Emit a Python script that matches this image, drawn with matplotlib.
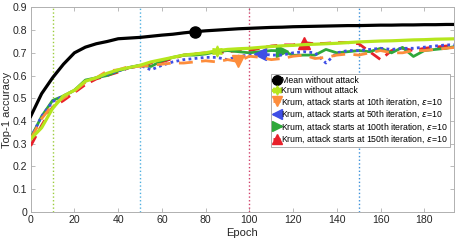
import matplotlib
matplotlib.use('Agg')
import matplotlib.pyplot as plt
import numpy as np

plt.rcParams['font.family'] = ['Liberation Sans', 'DejaVu Sans']

epochs = np.arange(0, 200, 5)

mean_no_attack = [0.42, 0.52, 0.59, 0.65, 0.70, 0.725, 0.74, 0.75, 0.762, 0.765,
                  0.768, 0.773, 0.778, 0.782, 0.788, 0.793, 0.797, 0.80, 0.803, 0.806,
                  0.808, 0.81, 0.812, 0.813, 0.815, 0.816, 0.817, 0.818, 0.819, 0.82,
                  0.82, 0.821, 0.822, 0.822, 0.823, 0.823, 0.824, 0.824, 0.825, 0.825]

krum_no_attack = [0.32, 0.37, 0.455, 0.51, 0.535, 0.575, 0.59, 0.61, 0.625, 0.635,
                  0.645, 0.66, 0.67, 0.68, 0.69, 0.695, 0.70, 0.709, 0.715, 0.718,
                  0.72, 0.724, 0.728, 0.731, 0.733, 0.736, 0.738, 0.74, 0.742, 0.745,
                  0.748, 0.75, 0.752, 0.753, 0.755, 0.757, 0.758, 0.76, 0.761, 0.762]

krum_attack_10 = [0.32, 0.41, 0.47, 0.50, 0.53, 0.57, 0.59, 0.62, 0.625, 0.64,
                  0.64, 0.645, 0.65, 0.655, 0.655, 0.66, 0.665, 0.66, 0.67, 0.662,
                  0.685, 0.68, 0.67, 0.675, 0.685, 0.69, 0.675, 0.68, 0.69, 0.695,
                  0.69, 0.70, 0.71, 0.70, 0.70, 0.71, 0.71, 0.715, 0.72, 0.725]

krum_attack_50 = [0.325, 0.42, 0.485, 0.51, 0.535, 0.575, 0.59, 0.605, 0.62, 0.635,
                  0.645, 0.625, 0.645, 0.66, 0.67, 0.675, 0.68, 0.68, 0.67, 0.685,
                  0.69, 0.696, 0.69, 0.69, 0.70, 0.705, 0.70, 0.655, 0.70, 0.71,
                  0.71, 0.715, 0.72, 0.715, 0.72, 0.72, 0.725, 0.73, 0.735, 0.735]

krum_attack_100 = [0.325, 0.42, 0.49, 0.51, 0.535, 0.58, 0.59, 0.60, 0.62, 0.635,
                   0.645, 0.64, 0.665, 0.68, 0.69, 0.69, 0.695, 0.705, 0.71, 0.705,
                   0.70, 0.705, 0.71, 0.709, 0.689, 0.69, 0.69, 0.715, 0.70, 0.705,
                   0.71, 0.705, 0.72, 0.70, 0.724, 0.684, 0.71, 0.715, 0.72, 0.73]

krum_attack_150 = [0.29, 0.38, 0.46, 0.49, 0.525, 0.56, 0.585, 0.60, 0.615, 0.635,
                   0.64, 0.655, 0.66, 0.675, 0.69, 0.695, 0.70, 0.70, 0.705, 0.71,
                   0.71, 0.72, 0.73, 0.735, 0.735, 0.745, 0.74, 0.742, 0.745, 0.745,
                   0.74, 0.705, 0.67, 0.71, 0.72, 0.71, 0.72, 0.725, 0.73, 0.73]

marker_epochs = [75, 85, 95, 105, 115, 125]
attack_starts = [10, 50, 100, 150]

labels = ['Mean without attack',
          'Krum without attack',
          'Krum, attack starts at 10th iteration, $\\epsilon$=10',
          'Krum, attack starts at 50th iteration, $\\epsilon$=10',
          'Krum, attack starts at 100th iteration, $\\epsilon$=10',
          'Krum, attack starts at 150th iteration, $\\epsilon$=10']

series = [mean_no_attack, krum_no_attack, krum_attack_10, krum_attack_50,
          krum_attack_100, krum_attack_150]
colors = ['#000000', '#b5e61d', '#fd8d3c', '#3f4fe6', '#2fa83a', '#e8202a']
styles = ['-', '-', (0, (5, 3)), (0, (1, 1.2)), '-', (0, (4, 2.5))]
markers = ['o', (6, 1, 0), 'v', '<', '>', '^']
vline_colors = ['#9ccc3c', '#4fb0e0', '#d0406a', '#3a8fd8']

fig = plt.figure(figsize=(4.58, 2.4), dpi=100)
ax = fig.add_axes([0.067, 0.118, 0.924, 0.851])

for xv, c in zip(attack_starts, vline_colors):
    ax.axvline(xv, color=c, linestyle=':', linewidth=1)

for i, (y, c, ls, m, lab, me) in enumerate(zip(series, colors, styles, markers, labels, marker_epochs)):
    lw = 2.3 if i < 2 else 2.0
    mark_idx = [list(epochs).index(me)]
    ax.plot(epochs, y, color=c, linestyle=ls, linewidth=lw, marker=m,
            markersize=8, markevery=mark_idx, label=lab, zorder=3 + (5 - i) * 0.1)

ax.set_xlim(0, 193.5)
ax.set_ylim(0, 0.9)
ax.set_xticks(np.arange(0, 181, 20))
ax.set_yticks(np.arange(0, 0.91, 0.1))
ax.set_yticklabels(['0'] + ['%.1f' % v for v in np.arange(0.1, 0.91, 0.1)])
ax.tick_params(direction='in', top=True, right=True, labelsize=7.6,
               colors='#b0b0b0', labelcolor='#262626', length=3, width=0.6, pad=2.5)
for s in ax.spines.values():
    s.set_color('#b0b0b0')
    s.set_linewidth(0.7)
ax.set_xlabel('Epoch', fontsize=8, color='#262626', labelpad=2)
ax.set_ylabel('Top-1 accuracy', fontsize=8, color='#262626')
ax.yaxis.set_label_coords(-0.044, 0.5)

leg = ax.legend(loc='upper left', bbox_to_anchor=(0.568, 0.674), fontsize=6.3,
                frameon=True, fancybox=False, edgecolor='#a0a0a0', framealpha=1,
                handlelength=0.8, handletextpad=0.1, labelspacing=0.12,
                borderpad=0.25, borderaxespad=0, markerscale=0.85)
leg.get_frame().set_linewidth(0.6)
leg.set_zorder(10)

fig.savefig('out.png', dpi=100)
